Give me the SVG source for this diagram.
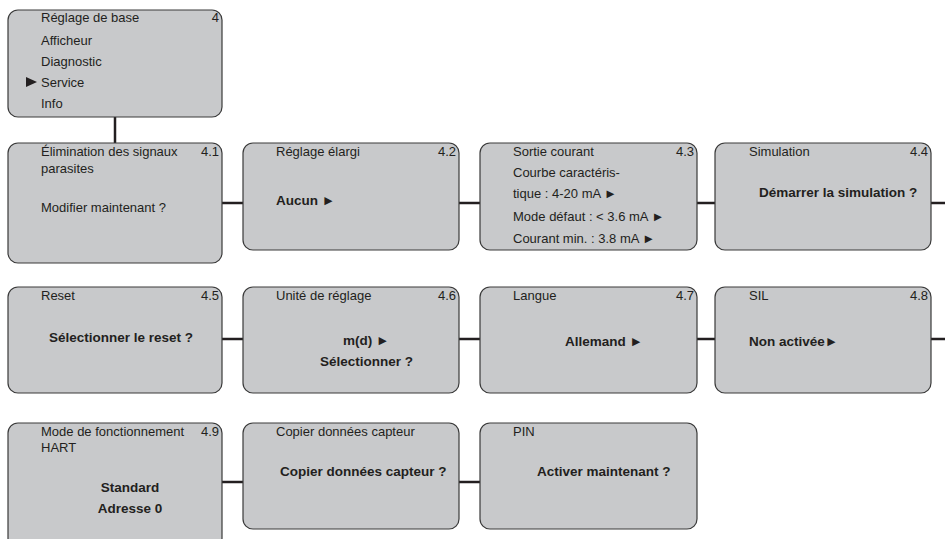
<svg xmlns="http://www.w3.org/2000/svg" width="945" height="539" viewBox="0 0 945 539">
<style>
.box{fill:#c8c9cb;stroke:#3a3a3a;stroke-width:1.2}
text{font-family:"Liberation Sans",Arial,sans-serif;font-size:13px;fill:#231f20}
.b{font-weight:bold;font-size:13.5px}
.r{text-anchor:end}
.m{text-anchor:middle}
.c{stroke:#231f20;stroke-width:2.5;fill:none}
</style>
<g id="connectors">
<line class="c" x1="115" y1="117" x2="115" y2="143"/>
<line class="c" x1="222" y1="203" x2="243" y2="203"/>
<line class="c" x1="459" y1="203" x2="480" y2="203"/>
<line class="c" x1="697" y1="203" x2="715" y2="203"/>
<line class="c" x1="931" y1="203" x2="945" y2="203"/>
<line class="c" x1="222" y1="339" x2="243" y2="339"/>
<line class="c" x1="459" y1="339" x2="480" y2="339"/>
<line class="c" x1="697" y1="339" x2="715" y2="339"/>
<line class="c" x1="931" y1="339" x2="945" y2="339"/>
<line class="c" x1="222" y1="482" x2="243" y2="482"/>
<line class="c" x1="459" y1="482" x2="480" y2="482"/>
</g>
<g id="menu">
<rect class="box" x="8" y="10" width="214" height="107" rx="10"/>
<text x="41" y="22">Réglage de base</text>
<text class="r" x="219" y="22">4</text>
<text x="41" y="45">Afficheur</text>
<text x="41" y="66">Diagnostic</text>
<polygon points="26,77 37,82 26,87" fill="#231f20"/>
<text x="41" y="87">Service</text>
<text x="41" y="108">Info</text>
</g>
<g id="n41">
<rect class="box" x="8" y="143" width="214" height="120" rx="10"/>
<text x="41" y="156">Élimination des signaux</text>
<text class="r" x="219" y="156">4.1</text>
<text x="41" y="173">parasites</text>
<text x="41" y="212">Modifier maintenant ?</text>
</g>
<g id="n42">
<rect class="box" x="243" y="143" width="216" height="107" rx="10"/>
<text x="276" y="156">Réglage élargi</text>
<text class="r" x="456" y="156">4.2</text>
<text class="b" x="276" y="205">Aucun ►</text>
</g>
<g id="n43">
<rect class="box" x="480" y="143" width="217" height="107" rx="10"/>
<text x="513" y="156">Sortie courant</text>
<text class="r" x="694" y="156">4.3</text>
<text x="513" y="177">Courbe caractéris-</text>
<text x="513" y="198">tique : 4-20 mA ►</text>
<text x="513" y="221">Mode défaut : &lt; 3.6 mA ►</text>
<text x="513" y="243">Courant min. : 3.8 mA ►</text>
</g>
<g id="n44">
<rect class="box" x="715" y="143" width="216" height="107" rx="10"/>
<text x="749" y="156">Simulation</text>
<text class="r" x="928" y="156">4.4</text>
<text class="b" x="759" y="197">Démarrer la simulation ?</text>
</g>
<g id="n45">
<rect class="box" x="8" y="287" width="214" height="106" rx="10"/>
<text x="41" y="300">Reset</text>
<text class="r" x="219" y="300">4.5</text>
<text class="b" x="49" y="342">Sélectionner le reset ?</text>
</g>
<g id="n46">
<rect class="box" x="243" y="287" width="216" height="106" rx="10"/>
<text x="276" y="300">Unité de réglage</text>
<text class="r" x="456" y="300">4.6</text>
<text class="b" x="343" y="345">m(d) ►</text>
<text class="b" x="320" y="366">Sélectionner ?</text>
</g>
<g id="n47">
<rect class="box" x="480" y="287" width="217" height="106" rx="10"/>
<text x="513" y="300">Langue</text>
<text class="r" x="694" y="300">4.7</text>
<text class="b" x="565" y="346">Allemand ►</text>
</g>
<g id="n48">
<rect class="box" x="715" y="287" width="216" height="106" rx="10"/>
<text x="749" y="300">SIL</text>
<text class="r" x="928" y="300">4.8</text>
<text class="b" x="749" y="346">Non activée►</text>
</g>
<g id="n49">
<rect class="box" x="8" y="423" width="214" height="125" rx="10"/>
<text x="41" y="436">Mode de fonctionnement</text>
<text class="r" x="219" y="436">4.9</text>
<text x="41" y="452">HART</text>
<text class="b m" x="130" y="492">Standard</text>
<text class="b m" x="130" y="513">Adresse 0</text>
</g>
<g id="n410">
<rect class="box" x="243" y="423" width="216" height="106" rx="10"/>
<text x="276" y="436">Copier données capteur</text>
<text class="b" x="280" y="476">Copier données capteur ?</text>
</g>
<g id="n411">
<rect class="box" x="480" y="423" width="217" height="106" rx="10"/>
<text x="513" y="436">PIN</text>
<text class="b" x="537" y="476">Activer maintenant ?</text>
</g>
</svg>
